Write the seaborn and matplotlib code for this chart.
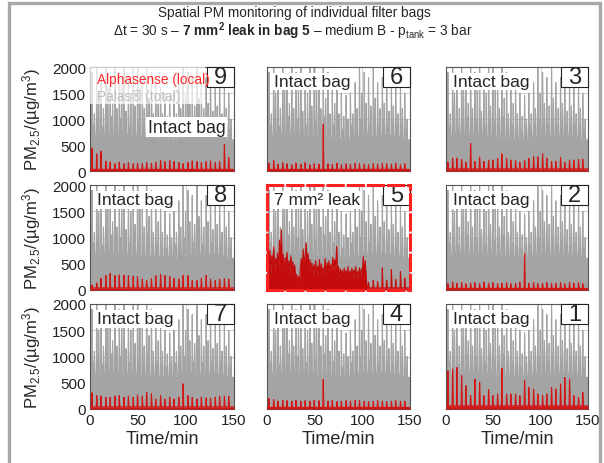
import numpy as np
import pandas as pd
import matplotlib
matplotlib.use("Agg")
import matplotlib.pyplot as plt
import seaborn as sns
from matplotlib.patches import Rectangle

sns.set_theme(style="white")
plt.rcParams['font.family'] = ['Liberation Sans', 'DejaVu Sans']
plt.rcParams['mathtext.fontset'] = 'custom'
plt.rcParams['mathtext.rm'] = 'Liberation Sans'
plt.rcParams['mathtext.bf'] = 'Liberation Sans:bold'
plt.rcParams['mathtext.it'] = 'Liberation Sans:italic'

# ---------------- data ----------------
# cleaning pulse times (min)
pulse_times = [2.0, 6.8, 11.5, 16.3, 21.0, 25.8, 30.5, 35.3, 40.0, 44.8, 49.5,
               54.3, 59.0, 63.8, 68.5, 73.3, 78.0, 82.8, 87.5, 92.3, 97.0,
               101.8, 106.5, 111.3, 116.0, 120.8, 125.5, 130.3, 135.0, 139.8, 144.5]
between_times = [4.4, 9.2, 13.9, 18.7, 23.4, 28.2, 32.9, 37.7, 42.4, 47.2, 51.9,
                 56.7, 61.4, 66.2, 70.9, 75.7, 80.4, 85.2, 89.9, 94.7, 99.4,
                 104.2, 108.9, 113.7, 118.4, 123.2, 127.9, 132.7, 137.4, 142.2, 146.9]
minor_times = [3.2, 8.0, 12.7, 17.5, 22.2, 27.0, 31.7, 36.5, 41.2, 46.0, 50.7,
               55.5, 60.2, 65.0, 69.7, 74.5, 79.2, 84.0, 88.7, 93.5, 98.2,
               103.0, 107.7, 112.5, 117.2, 122.0, 126.7, 131.5, 136.2, 141.0, 145.7]

# Palas (total) signal
gray_peak_pulse = [1900, 2100, 1800, 2100, 1700, 2100, 1900, 2100, 1800, 2000, 2100,
                   1700, 2100, 1900, 1700, 1600, 1500, 1450, 1500, 1700, 2100,
                   1900, 1800, 2000, 1700, 1800, 1900, 1650, 1800, 1600, 1500]
gray_peak_between = [1100, 1500, 1200, 1600, 1300, 1200, 1700, 1150, 1500, 1250, 1600,
                     1200, 1400, 1100, 1300, 1100, 1050, 1000, 1100, 1200, 1500,
                     1300, 1250, 1400, 1200, 1300, 1150, 1250, 1100, 1200, 1000]
gray_peak_minor = [900, 1000, 850, 950, 1050, 900, 1000, 950, 880, 1000, 950,
                   900, 1050, 850, 900, 820, 800, 850, 880, 900, 1000,
                   950, 900, 1000, 880, 950, 900, 850, 900, 850, 800]
gray_level_10min = [680, 720, 700, 700, 690, 670, 640, 620, 620, 660, 700, 690, 680, 660, 600]

# Alphasense (local) peaks at pulse times, per bag
red_peaks = {
    9: [440, 330, 380, 190, 170, 140, 170, 140, 160, 140, 150, 140, 165, 150, 165, 210,
        180, 210, 180, 165, 140, 165, 195, 180, 165, 180, 195, 165, 180, 510, 260],
    6: [150, 200, 130, 160, 140, 120, 150, 130, 160, 120, 140, 130, 900, 140, 130, 150,
        120, 140, 130, 150, 140, 130, 120, 140, 130, 150, 140, 130, 150, 120, 140],
    3: [170, 245, 245, 225, 170, 530, 185, 265, 185, 210, 210, 245, 330, 245, 210, 200,
        170, 210, 245, 275, 275, 330, 245, 185, 185, 265, 170, 210, 210, 225, 225],
    8: [95, 135, 220, 275, 315, 275, 285, 285, 275, 260, 260, 210, 180, 220, 275, 300,
        275, 260, 220, 210, 275, 275, 180, 180, 220, 275, 210, 180, 210, 220, 210],
    2: [120, 150, 130, 140, 120, 130, 140, 120, 150, 130, 140, 120, 130, 140, 120, 130,
        150, 690, 130, 140, 120, 130, 140, 120, 130, 140, 120, 150, 130, 140, 120],
    7: [310, 255, 245, 225, 225, 245, 255, 225, 245, 225, 270, 245, 320, 290, 190, 255,
        190, 225, 190, 225, 480, 255, 225, 190, 225, 210, 210, 225, 245, 245, 245],
    4: [200, 180, 150, 170, 160, 150, 170, 150, 160, 150, 170, 160, 560, 150, 160, 140,
        150, 160, 150, 170, 160, 150, 140, 150, 160, 150, 140, 150, 160, 150, 150],
    1: [730, 760, 790, 635, 445, 255, 570, 510, 255, 370, 255, 285, 775, 285, 285, 285,
        255, 540, 410, 380, 285, 255, 285, 410, 380, 475, 600, 570, 255, 220, 315],
}
red_base = {9: 30, 6: 30, 3: 40, 8: 40, 5: 40, 2: 30, 7: 40, 4: 30, 1: 60}

# bag 5 (leak): 1-min values for 0..104 min, then pulse peaks afterwards
leak_red = [350, 880, 420, 760, 300, 650, 500, 820, 380, 600,
            450, 700, 350, 950, 500, 1150, 420, 680, 300, 620,
            480, 720, 380, 560, 300, 650, 420, 540, 260, 480,
            200, 300, 120, 260, 150, 420, 600, 380, 780, 450,
            650, 900, 500, 700, 350, 580, 300, 520, 260, 480,
            350, 560, 280, 450, 330, 580, 250, 500, 300, 420,
            380, 600, 280, 520, 350, 560, 300, 480, 400, 620,
            350, 580, 420, 830, 300, 450, 220, 400, 260, 380,
            200, 420, 250, 380, 180, 450, 230, 360, 280, 420,
            200, 380, 260, 450, 220, 350, 300, 420, 250, 400,
            380, 640, 300, 560, 250]
red_peaks_5_after = [150, 190, 160, 420, 190, 385, 200, 350, 225]  # pulses 106.5..144.5

grid_layout = [[9, 6, 3], [8, 5, 2], [7, 4, 1]]
y_ticks = [0, 500, 1000, 1500, 2000]
x_ticks = [0, 50, 100, 150]

# ---------------- build series ----------------
t = np.arange(0, 150.01, 0.5)  # 30 s sampling


def idx(tt):
    return int(round(tt / 0.5))


gray = np.array([gray_level_10min[min(int(v // 10), 14)] for v in t], dtype=float)
for times, peaks in ((minor_times, gray_peak_minor), (pulse_times, gray_peak_pulse),
                     (between_times, gray_peak_between)):
    for tt, v in zip(times, peaks):
        gray[idx(tt)] = v
gray_df = pd.DataFrame({"time": t, "pm": gray})


def red_series(bag):
    r = np.full_like(t, red_base[bag], dtype=float)
    for tt, v in zip(pulse_times, red_peaks[bag]):
        r[idx(tt)] = v
    return pd.DataFrame({"time": t, "pm": r})


def red_series_5():
    lt = np.arange(0, len(leak_red), 1.0)
    t2 = t[t >= 105]
    r2 = np.full_like(t2, red_base[5], dtype=float)
    for tt, v in zip(pulse_times[22:], red_peaks_5_after):
        r2[int(round((tt - 105) / 0.5))] = v
    return pd.DataFrame({"time": np.concatenate([lt, t2]),
                         "pm": np.concatenate([leak_red, r2])})


# ---------------- figure ----------------
fig = plt.figure(figsize=(6.04, 4.64), dpi=100)
W, H = 604, 464
col_px = [(90, 144), (267, 143), (446, 142)]
row_px = [(68, 104), (186, 105), (305, 105)]

GRAY = '#a4a4a4'
RED = '#d41515'
RED_LEAK = '#c40c0c'

for ri, row in enumerate(grid_layout):
    for ci, bag in enumerate(row):
        x0, w = col_px[ci]
        y0, h = row_px[ri]
        ax = fig.add_axes([x0 / W, (H - y0 - h) / H, w / W, h / H])
        ax.fill_between(gray_df["time"], gray_df["pm"], color=GRAY, lw=0, zorder=1)
        sns.lineplot(data=gray_df, x="time", y="pm", ax=ax, color=GRAY, lw=0.8, zorder=2)
        if bag == 5:
            rd = red_series_5()
            col = RED_LEAK
        else:
            rd = red_series(bag)
            col = RED
        ax.fill_between(rd["time"], rd["pm"], color=col, lw=0, zorder=3)
        sns.lineplot(data=rd, x="time", y="pm", ax=ax, color=col, lw=0.8, zorder=4)

        ax.set_xlim(0, 150)
        ax.set_ylim(0, 2000)
        ax.set_xticks(x_ticks)
        ax.set_yticks(y_ticks)
        ax.grid(True, color='#c8c8c8', lw=0.6, zorder=0)
        ax.set_axisbelow(True)
        ax.tick_params(length=0, labelsize=11, pad=3, colors='#222222')
        for s in ax.spines.values():
            s.set_color('#555555')
            s.set_linewidth(0.8)
        if ci == 0:
            ax.set_ylabel(r"PM$_{2.5}$/(µg/m$^3$)", fontsize=12, labelpad=6)
        else:
            ax.set_ylabel("")
            ax.set_yticklabels([])
        if ri == 2:
            ax.set_xlabel("Time/min", fontsize=13, labelpad=2)
        else:
            ax.set_xlabel("")
            ax.set_xticklabels([])

        # bag number box
        bw, bh = 27 / w, 20 / h
        ax.add_patch(Rectangle((1 - bw, 1 - bh), bw, bh, transform=ax.transAxes,
                               fc='white', ec='#222222', lw=0.8, zorder=6, clip_on=False))
        ax.text(1 - bw / 2, 1 - bh / 2, str(bag), transform=ax.transAxes, fontsize=17,
                ha='center', va='center', zorder=7)

        if bag == 9:
            ax.add_patch(Rectangle((0.0, 0.64), 0.8, 0.36, transform=ax.transAxes,
                                   fc='white', ec='none', alpha=0.7, zorder=5))
            ax.text(0.05, 0.885, "Alphasense (local)", transform=ax.transAxes,
                    fontsize=9.8, color='#ff2a2a', ha='left', va='center', zorder=7)
            ax.text(0.05, 0.72, "Palas® (total)", transform=ax.transAxes,
                    fontsize=9.8, color='#bdbdbd', ha='left', va='center', zorder=7)
            ax.text(0.40, 0.42, "Intact bag", transform=ax.transAxes, fontsize=12.8,
                    ha='left', va='center', zorder=7,
                    bbox=dict(fc='white', ec='none', pad=1))
        elif bag == 5:
            ax.text(0.05, 0.86, "7 mm² leak", transform=ax.transAxes, fontsize=12.5,
                    ha='left', va='center', zorder=7,
                    bbox=dict(fc='white', ec='none', pad=1))
            for s in ax.spines.values():
                s.set_color('#ff2020')
                s.set_linewidth(2.2)
                s.set_linestyle((0, (5, 1.6)))
                s.set_zorder(8)
        else:
            ax.text(0.05, 0.86, "Intact bag", transform=ax.transAxes, fontsize=12.5,
                    ha='left', va='center', zorder=7,
                    bbox=dict(fc='white', ec='none', pad=1))

# title
fig.text(294 / W, 1 - 13 / H, "Spatial PM monitoring of individual filter bags",
         ha='center', va='center', fontsize=9.8)
fig.text(293 / W, 1 - 31 / H,
         r"$\Delta$t = 30 s – $\mathbf{7\ mm^2\ leak\ in\ bag\ 5}$ – medium B - p$_{\mathrm{tank}}$ = 3 bar",
         ha='center', va='center', fontsize=9.8)

# outer frame
fig.add_artist(Rectangle((8.5 / W, -0.05), (600 - 8.5) / W, 1.05 - 4 / H,
                         transform=fig.transFigure, fc='none', ec='#a8a8a8', lw=2.4))

fig.savefig("out.png", dpi=100)
